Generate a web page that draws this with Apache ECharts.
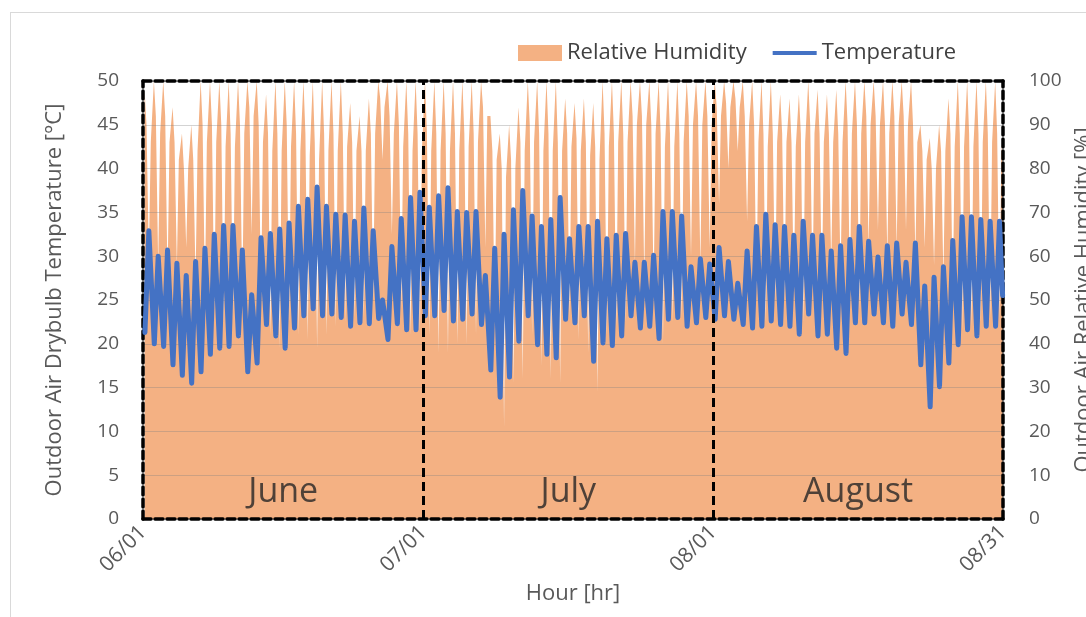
<!DOCTYPE html>
<html>
<head>
<meta charset="utf-8">
<script src="https://cdn.jsdelivr.net/npm/echarts@6/dist/echarts.min.js"></script>
<style>
  html, body { margin: 0; padding: 0; background: #fff; overflow: hidden; }
  #frame { position: absolute; left: 10px; top: 12px; width: 1200px; height: 700px;
           border: 1px solid #d9d9d9; box-sizing: border-box; }
  #chart { position: absolute; left: 0; top: 0; width: 1086px; height: 617px; }
</style>
</head>
<body>
<div id="frame"></div>
<div id="chart"></div>
<script>
// Summer weather, 06/01 - 08/31, a few readings per day.

// Outdoor drybulb temperature [°C], daily early-morning low (05h)
const tempLow = [
  21.3, 20.0, 19.7, 17.6, 16.4, 15.5, 16.8, 18.8, 19.5, 19.7, 20.9, 16.8, 17.8, 22.2, 20.9,
  19.5, 21.8, 23.2, 24.0, 23.2, 23.4, 23.0, 22.0, 22.4, 22.3, 22.9, 20.5, 22.3, 21.6, 21.6,
  23.2, 23.2, 23.8, 22.6, 22.8, 23.4, 22.2, 17.0, 13.9, 16.2, 20.3, 23.2, 19.9, 18.8, 18.4,
  22.8, 22.4, 23.2, 18.0, 20.1, 19.8, 20.9, 23.2, 21.8, 22.0, 20.6, 22.8, 23.0, 22.0, 22.4, 23.0,
  22.8, 23.2, 22.8, 22.2, 21.8, 22.0, 22.6, 22.2, 22.0, 21.1, 23.4, 20.9, 21.1, 19.5, 18.9,
  22.4, 22.4, 23.4, 22.4, 22.0, 23.4, 22.2, 17.6, 12.8, 15.1, 17.8, 19.9, 21.6, 20.9, 22.0, 22.0
];

// Outdoor drybulb temperature [°C], daily afternoon high (15h)
const tempHigh = [
  32.9, 30.0, 30.7, 29.2, 27.8, 29.4, 30.9, 32.5, 33.5, 33.5, 30.7, 25.6, 32.1, 32.6, 33.1,
  33.8, 35.7, 36.5, 37.9, 35.7, 34.8, 34.7, 34.0, 35.5, 32.9, 25.0, 31.1, 34.3, 36.7, 37.3,
  35.6, 36.9, 37.8, 35.1, 35.0, 35.1, 27.8, 30.9, 32.5, 35.3, 37.5, 34.6, 33.4, 34.2, 36.7,
  32.0, 33.4, 33.4, 34.0, 32.0, 32.4, 32.6, 29.3, 29.3, 30.1, 35.1, 35.1, 34.6, 28.8, 29.7, 29.1,
  31.0, 29.4, 26.9, 30.6, 33.4, 34.8, 33.6, 33.4, 32.4, 34.0, 32.4, 32.4, 30.6, 31.2, 31.9,
  33.4, 31.7, 29.9, 31.2, 31.5, 29.3, 31.5, 26.6, 27.6, 28.8, 31.8, 34.5, 34.5, 34.2, 34.0, 34.0
];

// Outdoor relative humidity [%], night-time high (04h)
const rhHigh = [
  98, 100, 100, 94, 88, 90, 100, 100, 100, 100, 100, 100, 100, 97, 100,
  100, 100, 100, 100, 100, 100, 100, 95, 92, 96, 100, 100, 100, 100, 100,
  100, 100, 100, 100, 100, 100, 100, 92, 88, 90, 94, 100, 100, 100, 100,
  96, 95, 96, 95, 100, 100, 100, 100, 100, 100, 100, 100, 100, 100, 100, 100,
  100, 100, 100, 100, 100, 100, 100, 97, 96, 97, 100, 98, 97, 98, 100,
  100, 100, 100, 100, 100, 100, 100, 90, 87, 90, 96, 100, 100, 100, 100, 100
];

// Outdoor relative humidity [%], morning (09h)
const rhMorning = [
  90, 92, 92, 86, 80, 82, 90, 90, 90, 88, 90, 94, 90, 88, 88,
  90, 88, 88, 86, 88, 88, 88, 86, 84, 88, 96, 92, 90, 88, 88,
  88, 88, 88, 88, 88, 88, 94, 84, 80, 82, 86, 90, 88, 88, 86,
  88, 87, 86, 85, 88, 88, 88, 92, 92, 90, 88, 88, 88, 92, 92, 92,
  94, 95, 96, 92, 90, 88, 88, 88, 86, 88, 90, 88, 88, 88, 90,
  90, 92, 92, 90, 92, 92, 90, 84, 80, 84, 88, 88, 88, 88, 88, 88
];

// Outdoor relative humidity [%], afternoon low (15h)
const rhLow = [
  60, 58, 55, 58, 62, 55, 52, 48, 45, 46, 50, 65, 50, 42, 39,
  45, 42, 41, 39, 42, 44, 45, 46, 46, 50, 82, 65, 48, 42, 43,
  42, 38, 38, 40, 40, 42, 62, 45, 21, 31, 32, 42, 35, 32, 31,
  46, 41, 38, 29, 42, 44, 45, 58, 55, 52, 40, 45, 46, 60, 58, 62,
  72, 80, 84, 68, 52, 45, 50, 50, 52, 45, 52, 52, 58, 55, 52,
  48, 62, 66, 60, 62, 66, 60, 62, 58, 55, 50, 43, 44, 45, 46, 46
];

// Outdoor relative humidity [%], evening (20h)
const rhEvening = [
  86, 88, 86, 82, 80, 84, 86, 86, 85, 85, 88, 92, 86, 84, 84,
  85, 84, 83, 82, 84, 84, 85, 84, 84, 88, 94, 88, 85, 84, 84,
  84, 84, 84, 84, 85, 86, 92, 82, 78, 80, 84, 86, 84, 84, 84,
  85, 84, 83, 82, 85, 86, 86, 90, 90, 88, 85, 85, 86, 90, 90, 90,
  92, 94, 94, 90, 86, 85, 86, 86, 85, 86, 88, 86, 86, 86, 88,
  88, 90, 90, 88, 90, 90, 86, 82, 80, 84, 85, 85, 85, 86, 86, 86
];

// Last hour of the period
const tempEnd = 25.5;
const rhEnd = 80;

// Axis ticks (hour of the period) and their date labels
const tickHours = [0, 720, 1464, 2208];
const tickLabels = ['06/01', '07/01', '08/01', '08/31'];
const monthNames = ['June', 'July', 'August'];

const FONT = '"Open Sans", Lato, "DejaVu Sans", sans-serif';
const TEXT = '#595959';
const ORANGE = '#F4B183';
const BLUE = '#4472C4';
const totalHours = tickHours[tickHours.length - 1];

// Place each day's readings on the hour axis
const tempPts = [];
const rhPts = [];
tempLow.forEach((lo, i) => {
  const base = i * 24;
  rhPts.push([base + 4, rhHigh[i]]);
  tempPts.push([base + 5, lo]);
  rhPts.push([base + 9, rhMorning[i]]);
  tempPts.push([base + 15, tempHigh[i]]);
  rhPts.push([base + 15, rhLow[i]]);
  rhPts.push([base + 20, rhEvening[i]]);
});
tempPts.push([totalHours - 1, tempEnd]);
rhPts.push([totalHours - 1, rhEnd]);

const labelMap = {};
tickHours.forEach((h, i) => { labelMap[h] = tickLabels[i]; });

const monthMid = monthNames.map((n, i) => ({
  name: n,
  value: [(tickHours[i] + tickHours[i + 1]) / 2, 3.1]
}));

const frameLine = {
  show: true,
  onZero: false,
  lineStyle: { color: '#000', width: 3.5, type: [8, 4] }
};

const chart = echarts.init(document.getElementById('chart'), null, { renderer: 'canvas' });

chart.setOption({
  animation: false,
  textStyle: { fontFamily: FONT },
  grid: {
    left: 143, right: 83, top: 81, bottom: 98,
    containLabel: false,
    outerBoundsMode: 'none'
  },
  legend: {
    left: 513,
    top: 37,
    itemWidth: 44,
    itemHeight: 16,
    itemGap: 26,
    textStyle: { fontSize: 22, color: '#404040', fontFamily: FONT },
    data: [
      { name: 'Relative Humidity', icon: 'rect', itemStyle: { color: ORANGE } },
      { name: 'Temperature', icon: 'path://M0,0 L44,0 L44,4 L0,4 Z', itemStyle: { color: BLUE } }
    ]
  },
  xAxis: [
    {
      type: 'value',
      min: 0,
      max: totalHours,
      interval: 24,
      position: 'bottom',
      z: 2,
      axisLine: frameLine,
      axisTick: { show: false },
      splitLine: { show: false },
      axisLabel: {
        customValues: tickHours,
        formatter: v => (labelMap[v] !== undefined ? labelMap[v] : ''),
        rotate: 45,
        margin: 10,
        fontSize: 21,
        color: TEXT,
        fontFamily: FONT
      },
      name: 'Hour [hr]',
      nameLocation: 'middle',
      nameGap: 59,
      nameTextStyle: { fontSize: 22, color: TEXT, fontFamily: FONT }
    },
    {
      type: 'value',
      min: 0,
      max: totalHours,
      position: 'top',
      z: 2,
      axisLine: frameLine,
      axisTick: { show: false },
      axisLabel: { show: false },
      splitLine: { show: false }
    }
  ],
  yAxis: [
    {
      type: 'value',
      min: 0,
      max: 50,
      interval: 5,
      position: 'left',
      z: 2,
      axisLine: frameLine,
      axisTick: { show: false },
      splitLine: { show: true, lineStyle: { color: 'rgba(130,130,130,0.35)', width: 1 } },
      axisLabel: { fontSize: 19, color: TEXT, margin: 24, fontFamily: FONT },
      name: 'Outdoor Air Drybulb Temperature [°C]',
      nameLocation: 'middle',
      nameRotate: 90,
      nameGap: 77,
      nameTextStyle: { fontSize: 22, color: TEXT, fontFamily: FONT }
    },
    {
      type: 'value',
      min: 0,
      max: 100,
      interval: 10,
      position: 'right',
      z: 2,
      axisLine: frameLine,
      axisTick: { show: false },
      splitLine: { show: false },
      axisLabel: { fontSize: 19, color: TEXT, margin: 26, fontFamily: FONT },
      name: 'Outdoor Air Relative Humidity [%]',
      nameLocation: 'middle',
      nameRotate: 90,
      nameGap: 66,
      nameTextStyle: { fontSize: 22, color: TEXT, fontFamily: FONT }
    }
  ],
  series: [
    {
      name: 'Relative Humidity',
      type: 'line',
      xAxisIndex: 0,
      yAxisIndex: 1,
      data: rhPts,
      symbol: 'none',
      z: 1,
      silent: true,
      lineStyle: { width: 0, color: ORANGE },
      itemStyle: { color: ORANGE },
      areaStyle: { color: ORANGE, opacity: 1 }
    },
    {
      name: 'Temperature',
      type: 'line',
      xAxisIndex: 0,
      yAxisIndex: 0,
      data: tempPts,
      symbol: 'none',
      z: 3,
      lineStyle: { width: 5, color: BLUE, join: 'round', cap: 'round' },
      itemStyle: { color: BLUE },
      markLine: {
        silent: true,
        symbol: ['none', 'none'],
        label: { show: false },
        lineStyle: { color: '#000', width: 3, type: [9, 5] },
        data: tickHours.slice(1, -1).map(h => ({ xAxis: h }))
      }
    },
    {
      name: 'Months',
      type: 'scatter',
      xAxisIndex: 0,
      yAxisIndex: 0,
      z: 4,
      silent: true,
      symbolSize: 1,
      itemStyle: { color: 'transparent' },
      label: {
        show: true,
        position: 'inside',
        formatter: '{b}',
        fontSize: 34,
        color: '#262626',
        fontFamily: FONT
      },
      data: monthMid
    }
  ]
});
</script>
</body>
</html>
